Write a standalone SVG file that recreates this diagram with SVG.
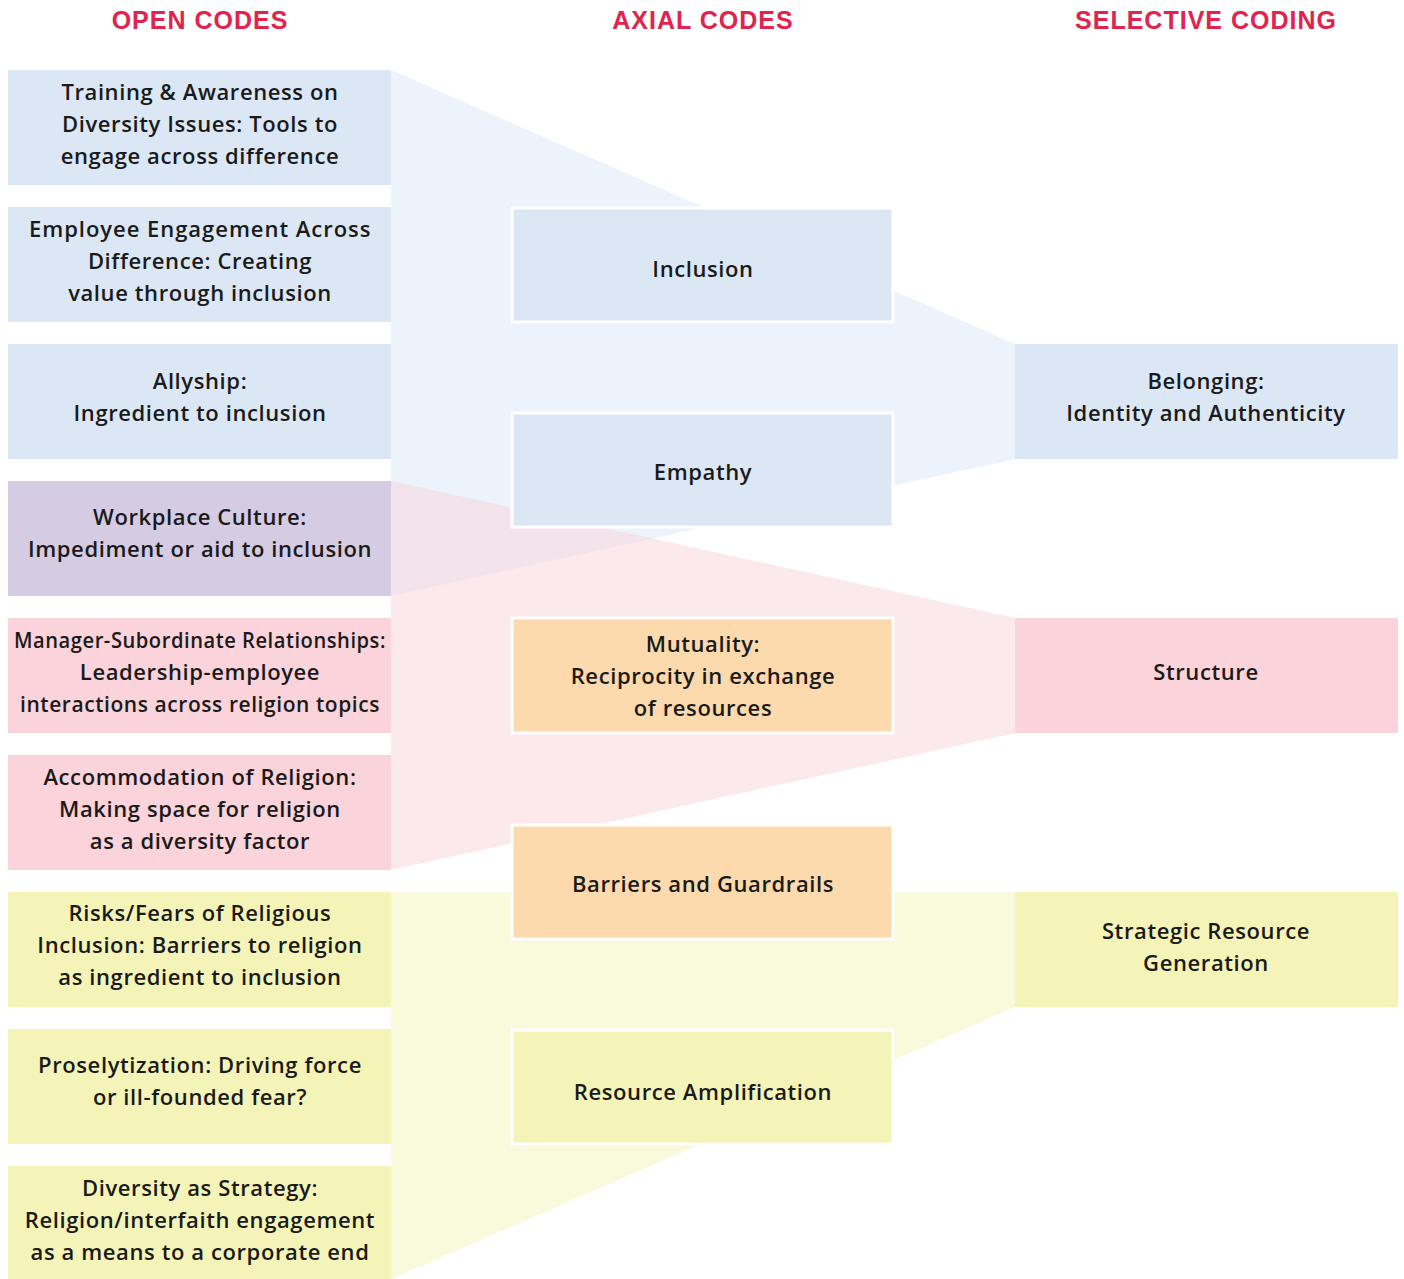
<svg xmlns="http://www.w3.org/2000/svg" width="1404" height="1279" viewBox="0 0 1404 1279">
<style>
.hdr{font-family:"Liberation Sans",Arial,sans-serif;font-weight:bold;font-size:25px;letter-spacing:1px;fill:#e1234d;text-anchor:middle}
.t{font-family:"Open Sans","Noto Sans",sans-serif;font-weight:600;font-size:22px;letter-spacing:0.6px;fill:#1a1a1a;text-anchor:middle}
.blue{fill:#dce7f5}
.pink{fill:#fad4da}
.purple{fill:#d5cce3}
.yellow{fill:#f4f4b8}
.orange{fill:#fcdaad}
.mid{stroke:#ffffff;stroke-width:3}
.fb{fill:#dce7f5;fill-opacity:0.5}
.fp{fill:#fad4da;fill-opacity:0.5}
.fy{fill:#f4f4b8;fill-opacity:0.5}
</style>
<rect width="1404" height="1279" fill="#ffffff"/>
<g id="headers">
<text class="hdr" x="200" y="29">OPEN CODES</text>
<text class="hdr" x="703" y="29">AXIAL CODES</text>
<text class="hdr" x="1206" y="29">SELECTIVE CODING</text>
</g>
<g id="connectors">
<polygon class="fb" points="391,70 1015,344 1015,459 391,596"/>
<polygon class="fp" points="391,481 1015,618 1015,733 391,870"/>
<polygon class="fy" points="391,892 1015,892 1015,1007 391,1279"/>
</g>
<g id="open1"><rect class="blue" x="8" y="70" width="383" height="115"/>
<text class="t" x="200" y="100">Training &amp; Awareness on</text><text class="t" x="200" y="132">Diversity Issues: Tools to</text><text class="t" x="200" y="164">engage across difference</text></g>
<g id="open2"><rect class="blue" x="8" y="207" width="383" height="115"/>
<text class="t" x="200" y="237" textLength="342" lengthAdjust="spacing">Employee Engagement Across</text><text class="t" x="200" y="269">Difference: Creating</text><text class="t" x="200" y="301">value through inclusion</text></g>
<g id="open3"><rect class="blue" x="8" y="344" width="383" height="115"/>
<text class="t" x="200" y="389">Allyship:</text><text class="t" x="200" y="421">Ingredient to inclusion</text></g>
<g id="open4"><rect class="purple" x="8" y="481" width="383" height="115"/>
<text class="t" x="200" y="525">Workplace Culture:</text><text class="t" x="200" y="557">Impediment or aid to inclusion</text></g>
<g id="open5"><rect class="pink" x="8" y="618" width="383" height="115"/>
<text class="t" x="200" y="648" textLength="372" lengthAdjust="spacingAndGlyphs">Manager-Subordinate Relationships:</text><text class="t" x="200" y="680">Leadership-employee</text><text class="t" x="200" y="712" textLength="360" lengthAdjust="spacingAndGlyphs">interactions across religion topics</text></g>
<g id="open6"><rect class="pink" x="8" y="755" width="383" height="115"/>
<text class="t" x="200" y="785">Accommodation of Religion:</text><text class="t" x="200" y="817">Making space for religion</text><text class="t" x="200" y="849">as a diversity factor</text></g>
<g id="open7"><rect class="yellow" x="8" y="892" width="383" height="115"/>
<text class="t" x="200" y="921">Risks/Fears of Religious</text><text class="t" x="200" y="953">Inclusion: Barriers to religion</text><text class="t" x="200" y="985">as ingredient to inclusion</text></g>
<g id="open8"><rect class="yellow" x="8" y="1029" width="383" height="115"/>
<text class="t" x="200" y="1073">Proselytization: Driving force</text><text class="t" x="200" y="1105">or ill-founded fear?</text></g>
<g id="open9"><rect class="yellow" x="8" y="1166" width="383" height="113"/>
<text class="t" x="200" y="1196">Diversity as Strategy:</text><text class="t" x="200" y="1228">Religion/interfaith engagement</text><text class="t" x="200" y="1260">as a means to a corporate end</text></g>
<g id="axial1"><rect class="blue mid" x="512" y="208" width="381" height="114"/>
<text class="t" x="703" y="277">Inclusion</text></g>
<g id="axial2"><rect class="blue mid" x="512" y="413" width="381" height="114"/>
<text class="t" x="703" y="480">Empathy</text></g>
<g id="axial3"><rect class="orange mid" x="512" y="618" width="381" height="115"/>
<text class="t" x="703" y="652">Mutuality:</text><text class="t" x="703" y="684">Reciprocity in exchange</text><text class="t" x="703" y="716">of resources</text></g>
<g id="axial4"><rect class="orange mid" x="512" y="825" width="381" height="114"/>
<text class="t" x="703" y="892">Barriers and Guardrails</text></g>
<g id="axial5"><rect class="yellow mid" x="512" y="1030" width="381" height="114"/>
<text class="t" x="703" y="1100">Resource Amplification</text></g>
<g id="sel1"><rect class="blue" x="1015" y="344" width="383" height="115"/>
<text class="t" x="1206" y="389">Belonging:</text><text class="t" x="1206" y="421">Identity and Authenticity</text></g>
<g id="sel2"><rect class="pink" x="1015" y="618" width="383" height="115"/>
<text class="t" x="1206" y="680">Structure</text></g>
<g id="sel3"><rect class="yellow" x="1015" y="892" width="383" height="115"/>
<text class="t" x="1206" y="939">Strategic Resource</text><text class="t" x="1206" y="971">Generation</text></g>
</svg>
